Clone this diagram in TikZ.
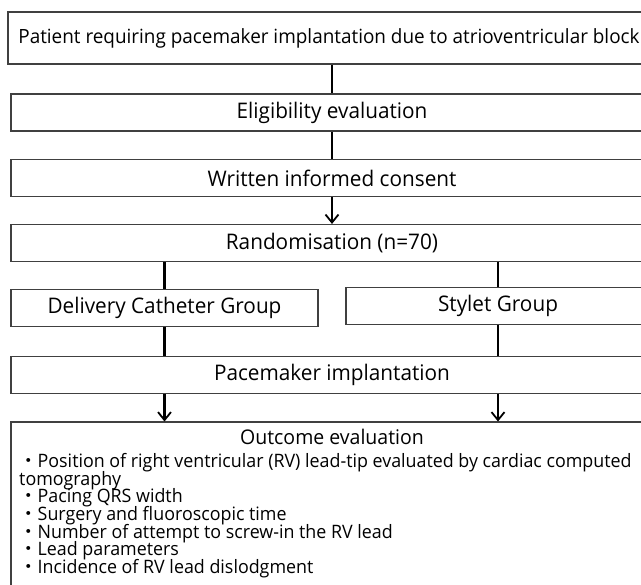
\documentclass[tikz,border=0pt]{standalone}
\usepackage{fontspec}
\setmainfont[FakeStretch=0.965]{Open Sans}
\newfontfamily\cjkfont{Noto Sans CJK JP}
\usetikzlibrary{arrows.meta}
\newcommand{\mydot}{\smash{\cjkfont ・}}
\newcommand{\mylistfont}{\fontsize{18.5}{17.7}\selectfont\lineskiplimit=-100pt\relax\lineskip=0pt\relax}
\begin{document}
\begin{tikzpicture}[x=1pt,y=-1pt,
  box/.style={draw=black!75, line width=1.1pt, inner sep=0pt, minimum height=37pt,
    font=\fontsize{21.5}{20}\selectfont},
  wide/.style={box, minimum width=642pt},
  conn/.style={line width=2.3pt},
  arr/.style={conn, -{Straight Barb[length=8pt,width=13pt,line width=1.8pt]}},
  plain/.style={inner sep=0pt}]
\useasboundingbox (0,0) rectangle (641,585);
\clip (0,0) rectangle (641,585);
\node[wide, minimum height=52pt, font=\fontsize{19.6}{18}\selectfont] (patient) at (329,38) {Patient requiring pacemaker implantation due to atrioventricular block};
\node[wide] (elig) at (332,112.5) {Eligibility evaluation};
\node[wide] (consent) at (332,178) {Written informed consent};
\node[wide] (rand) at (332,243) {Randomisation (n=70)};
\node[box, minimum width=307pt] (deliv) at (164.5,308) {Delivery Catheter Group};
\node[box, minimum width=304pt] (stylet) at (498,306) {Stylet Group};
\node[wide] (pace) at (332,375) {Pacemaker implantation};
\node[wide, minimum height=190pt, anchor=north] (outcome) at (332,421.5) {};
\node[plain, anchor=center, font=\fontsize{20.2}{18}\selectfont] (outtitle) at (332,437) {Outcome evaluation};
\node[plain, anchor=north west, align=left, font=\mylistfont] (outlist) at (19,453) {%
\baselineskip=17.6pt\relax
\mydot Position of right ventricular (RV) lead-tip evaluated by cardiac computed\\
tomography\\
\mydot Pacing QRS width\\
\mydot Surgery and fluoroscopic time\\
\mydot Number of attempt to screw-in the RV lead\\
\mydot Lead parameters\\
\mydot Incidence of RV lead dislodgment};
\draw[conn] (patient.south -| elig.north) -- (elig);
\draw[conn] (elig) -- (consent);
\draw[arr] (consent) -- (rand);
\draw[conn] (rand.south -| deliv.north) -- (deliv);
\draw[conn] (rand.south -| stylet.north) -- (stylet);
\draw[conn] (deliv) -- (pace.north -| deliv.south);
\draw[conn] (stylet) -- (pace.north -| stylet.south);
\draw[arr] (pace.south -| deliv.south) -- (outcome.north -| deliv.south);
\draw[arr] (pace.south -| stylet.south) -- (outcome.north -| stylet.south);
\end{tikzpicture}
\end{document}
